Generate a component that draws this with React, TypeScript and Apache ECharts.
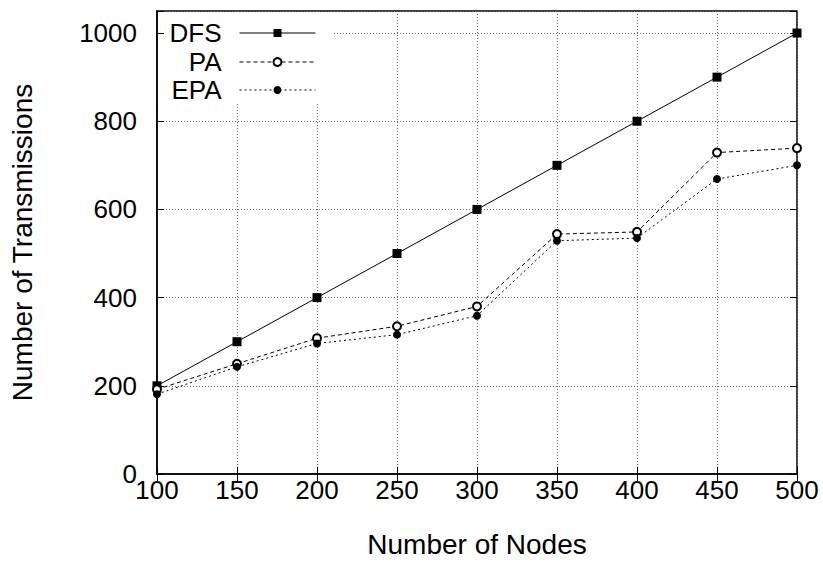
import React, { useEffect, useRef } from "react";
import * as echarts from "echarts";

const nodes = [100, 150, 200, 250, 300, 350, 400, 450, 500];
const dfs = [200, 300, 400, 500, 600, 700, 800, 900, 1000];
const pa = [192, 250, 308, 335, 380, 544, 549, 729, 739];
const epa = [181, 243, 296, 316, 359, 529, 535, 669, 700];
const yTicks = [0, 200, 400, 600, 800, 1000];

const FONT = "'Liberation Sans', Arial, Helvetica, sans-serif";

export default function App() {
  const ref = useRef<HTMLDivElement>(null);
  useEffect(() => {
    if (!ref.current) return;
    const chart = echarts.init(ref.current, undefined, { renderer: "svg" });
    const pair = (ys: number[]) => nodes.map((x, i) => [x, ys[i]]);
    const legendBase = {
      orient: "horizontal" as const,
      align: "right" as const,
      right: 507,
      padding: 0,
      itemWidth: 76,
      itemHeight: 10,
      lineStyle: { width: 1 },
      textStyle: {
        fontFamily: FONT,
        fontSize: 26,
        color: "#000",
        lineHeight: 26,
        padding: [0, 13, 0, 0],
      },
      selectedMode: false,
      z: 5,
    };
    const tickCommon = { inside: true, length: 7, lineStyle: { color: "#000", width: 1 } };
    chart.setOption({
      animation: false,
      backgroundColor: "#fff",
      grid: {
        left: 157,
        right: 26,
        top: 11,
        bottom: 85,
        show: true,
        borderColor: "#000",
        borderWidth: 1.5,
        backgroundColor: "transparent",
      },
      legend: [
        { ...legendBase, top: 20, data: ["DFS"] },
        { ...legendBase, top: 49, data: ["PA"] },
        { ...legendBase, top: 77, data: ["EPA"] },
      ],
      graphic: [
        {
          type: "rect",
          left: 164,
          top: 12,
          shape: { width: 168, height: 90 },
          style: { fill: "#fff" },
          z: 3,
          silent: true,
        },
      ],
      xAxis: [
        {
          type: "value",
          min: 100,
          max: 500,
          interval: 50,
          name: "Number of Nodes",
          nameLocation: "middle",
          nameGap: 56,
          nameTextStyle: { fontFamily: FONT, fontSize: 28, color: "#000" },
          axisLine: { show: true, onZero: false, lineStyle: { color: "#000", width: 1.5 } },
          axisTick: tickCommon,
          axisLabel: { fontFamily: FONT, fontSize: 26, color: "#000", margin: 3 },
          splitLine: { show: true, lineStyle: { color: "#666", type: [1, 2], width: 1 } },
        },
        {
          type: "value",
          position: "top",
          min: 100,
          max: 500,
          interval: 50,
          axisLine: { show: false },
          axisTick: tickCommon,
          axisLabel: { show: false },
          splitLine: { show: false },
        },
      ],
      yAxis: [
        {
          type: "value",
          min: 0,
          max: 1050,
          interval: 200,
          name: "Number of Transmissions",
          nameLocation: "middle",
          nameGap: 121,
          nameRotate: 90,
          nameTextStyle: { fontFamily: FONT, fontSize: 28, color: "#000" },
          axisLine: { show: true, lineStyle: { color: "#000", width: 1.5 } },
          axisTick: tickCommon,
          axisLabel: {
            fontFamily: FONT,
            fontSize: 26,
            color: "#000",
            margin: 20,
            formatter: (v: number) => (yTicks.includes(v) ? String(v) : ""),
          },
          splitLine: { show: true, lineStyle: { color: "#666", type: [1, 2], width: 1 } },
        },
        {
          type: "value",
          position: "right",
          min: 0,
          max: 1050,
          interval: 200,
          axisLine: { show: false },
          axisTick: tickCommon,
          axisLabel: { show: false },
          splitLine: { show: false },
        },
      ],
      series: [
        {
          name: "DFS",
          type: "line",
          data: pair(dfs),
          symbol: "rect",
          symbolSize: 9,
          itemStyle: { color: "#000" },
          lineStyle: { color: "#000", width: 1, type: "solid" },
          z: 4,
        },
        {
          name: "PA",
          type: "line",
          data: pair(pa),
          symbol: "emptyCircle",
          symbolSize: 8,
          itemStyle: { color: "#000", borderWidth: 1 },
          lineStyle: { color: "#000", width: 1, type: [4, 3] },
          z: 4,
        },
        {
          name: "EPA",
          type: "line",
          data: pair(epa),
          symbol: "circle",
          symbolSize: 8,
          itemStyle: { color: "#000" },
          lineStyle: { color: "#000", width: 1, type: [2, 3] },
          z: 4,
        },
      ],
    });
    return () => chart.dispose();
  }, []);
  return <div ref={ref} style={{ width: 823, height: 563, position: "absolute", left: 0, top: 0 }} />;
}
